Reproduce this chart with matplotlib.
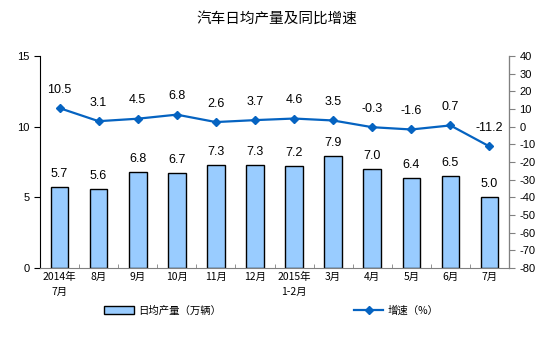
import matplotlib.pyplot as plt
import numpy as np

plt.rcParams['font.family'] = ['Liberation Sans', 'Noto Sans CJK SC', 'DejaVu Sans']
plt.rcParams['axes.unicode_minus'] = False

# 月份与数据
months = ['2014年\n7月', '8月', '9月', '10月', '11月', '12月',
          '2015年\n1-2月', '3月', '4月', '5月', '6月', '7月']
output = [5.7, 5.6, 6.8, 6.7, 7.3, 7.3, 7.2, 7.9, 7.0, 6.4, 6.5, 5.0]
growth = [10.5, 3.1, 4.5, 6.8, 2.6, 3.7, 4.6, 3.5, -0.3, -1.6, 0.7, -11.2]

bar_color = '#99CCFF'
line_color = '#0563C1'
cjk = ['Noto Sans CJK SC', 'DejaVu Sans']

fig = plt.figure(figsize=(5.54, 3.45), dpi=100)
ax = fig.add_axes([0.0722, 0.2232, 0.8466, 0.6145])
ax2 = ax.twinx()

x = np.arange(len(months))
bars = ax.bar(x, output, width=0.45, color=bar_color, edgecolor='black',
              linewidth=1.0, label='日均产量（万辆）')
for xi, v in zip(x, output):
    ax.annotate(f'{v:.1f}', (xi, v), xytext=(0, 5), textcoords='offset points',
                ha='center', va='bottom', fontsize=9)

line, = ax2.plot(x, growth, color=line_color, linewidth=1.6, marker='D',
                 markersize=4.5, label='增速（%）')
for xi, v in zip(x, growth):
    ax2.annotate(f'{v:.1f}', (xi, v), xytext=(0, 9), textcoords='offset points',
                 ha='center', va='bottom', fontsize=9)

# 坐标轴
ax.set_xlim(-0.5, len(months) - 0.5)
ax.set_ylim(0, 15)
ax.set_yticks([0, 5, 10, 15])
ax2.set_ylim(-80, 40)
ax2.set_yticks(np.arange(-80, 41, 10))

ax.set_xticks(x)
ax.set_xticklabels(months, fontsize=7.5, family=cjk, linespacing=1.6)
ax.set_xticks(np.arange(-0.5, len(months), 1), minor=True)
ax.tick_params(axis='x', which='major', length=0, pad=3)
ax.tick_params(axis='x', which='minor', length=3, direction='in', color='#808080')
ax.tick_params(axis='y', labelsize=8, length=4, direction='out', color='black')
ax2.tick_params(axis='y', labelsize=8, length=4, direction='out', color='#808080')

for a in (ax, ax2):
    a.spines['top'].set_visible(False)
ax.spines['bottom'].set_color('#808080')
ax.spines['left'].set_color('black')
ax2.spines['right'].set_color('#808080')
ax2.spines['left'].set_visible(False)
ax2.spines['bottom'].set_visible(False)

fig.text(0.5, 0.947, '汽车日均产量及同比增速', ha='center', va='center',
         fontsize=10.5, family=cjk)

fig.legend([bars, line], ['日均产量（万辆）', '增速（%）'], loc='center',
           bbox_to_anchor=(0.49, 0.1), ncol=2, frameon=False,
           columnspacing=12.8, handlelength=2.8, handletextpad=0.4,
           prop={'family': cjk, 'size': 7.5})

fig.savefig('out.png', dpi=100)
